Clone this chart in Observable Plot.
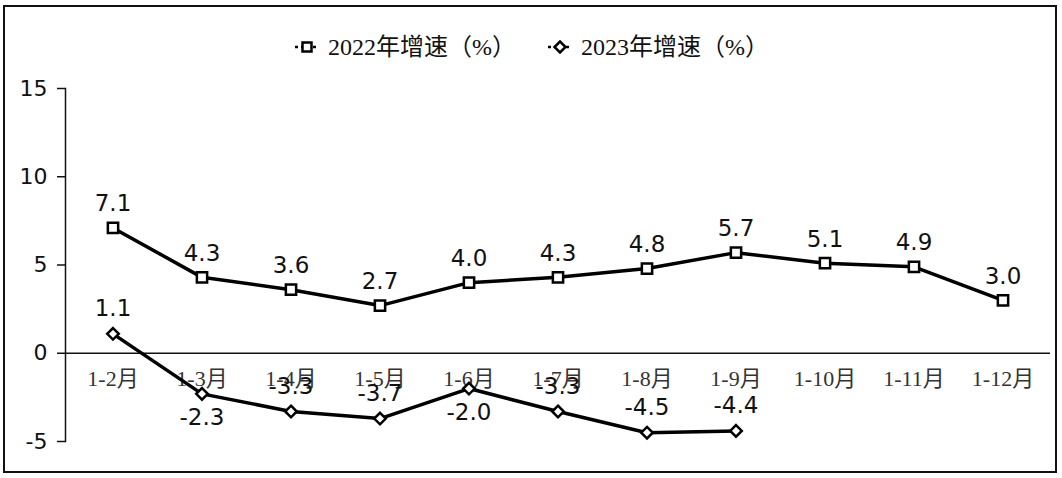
<!DOCTYPE html>
<html><head><meta charset="utf-8">
<script src="https://cdn.jsdelivr.net/npm/d3@7"></script>
<script src="https://cdn.jsdelivr.net/npm/@observablehq/plot@0.6"></script>
<style>
body{margin:0;background:#fff;}
#wrap{position:relative;width:1062px;height:478px;overflow:hidden;}
#border{position:absolute;left:3px;top:5px;width:1054px;height:468px;border:2px solid #111;box-sizing:border-box;pointer-events:none;}
#legend{position:absolute;top:32px;left:295px;display:flex;align-items:center;gap:32px;font-family:"Liberation Serif","Noto Sans CJK SC",serif;font-size:24px;line-height:30px;color:#111;}
#legend .item{display:flex;align-items:center;gap:9px;}
#chart{position:absolute;left:0;top:0;}
</style></head>
<body>
<div id="wrap"><div id="chart"></div>
<div id="legend">
<div class="item"><svg width="24" height="14"><line x1="0" y1="7" x2="24" y2="7" stroke="#000" stroke-width="2.5" stroke-dasharray="3,3"/><rect x="7.5" y="2.5" width="9" height="9" fill="#fff" stroke="#000" stroke-width="2.5"/></svg><span>2022年增速（%）</span></div>
<div class="item"><svg width="24" height="14"><line x1="0" y1="7" x2="24" y2="7" stroke="#000" stroke-width="2.5" stroke-dasharray="3,3"/><path d="M12,1.5L17.5,7L12,12.5L6.5,7Z" fill="#fff" stroke="#000" stroke-width="2.5"/></svg><span>2023年增速（%）</span></div>
</div>
<div id="border"></div></div>
<script>
const months = ["1-2月","1-3月","1-4月","1-5月","1-6月","1-7月","1-8月","1-9月","1-10月","1-11月","1-12月"];
const values2022 = [7.1,4.3,3.6,2.7,4.0,4.3,4.8,5.7,5.1,4.9,3.0];
const values2023 = [1.1,-2.3,-3.3,-3.7,-2.0,-3.3,-4.5,-4.4];
const labelPos2023 = ["above","below","above","above","below","above","above","above"];
const yTicks = [-5,0,5,10,15];

const d22 = values2022.map((v,i)=>({m:months[i],v}));
const d23 = values2023.map((v,i)=>({m:months[i],v,pos:labelPos2023[i]}));
const sans = "DejaVu Sans, Verdana, sans-serif";
const serif = "Liberation Serif, Noto Sans CJK SC, serif";

const chart = Plot.plot({
  width:1062, height:478,
  marginLeft:65, marginRight:12, marginTop:88, marginBottom:37,
  style:{fontFamily:sans, background:"transparent", color:"#111"},
  x:{type:"band", domain:months, padding:0, axis:null},
  y:{domain:[-5,15], axis:null},
  marks:[
    Plot.axisY({ticks:yTicks, label:null, tickSize:8, tickPadding:10, tickFormat:d=>String(d), fontSize:22, fontFamily:sans, stroke:"#111", strokeWidth:1.5}),
    Plot.frame({anchor:"left", stroke:"#111", strokeWidth:1.5}),
    Plot.ruleY([0], {stroke:"#111", strokeWidth:1.5}),
    Plot.text(months, {x:d=>d, y:()=>0, dy:26, text:d=>d, fontSize:22, fontFamily:serif, fill:"#333"}),
    Plot.line(d22, {x:"m", y:"v", stroke:"#000", strokeWidth:3.5}),
    Plot.line(d23, {x:"m", y:"v", stroke:"#000", strokeWidth:3.5}),
    Plot.dot(d22, {x:"m", y:"v", symbol:"square", r:5.8, fill:"#fff", stroke:"#000", strokeWidth:2.5}),
    Plot.dot(d23, {x:"m", y:"v", symbol:"diamond2", r:5.2, fill:"#fff", stroke:"#000", strokeWidth:2.5}),
    Plot.text(d22, {x:"m", y:"v", text:d=>d.v.toFixed(1), dy:-24, fontSize:23, fontFamily:sans, fill:"#111"}),
    Plot.text(d23.filter(d=>d.pos==="above"), {x:"m", y:"v", text:d=>d.v.toFixed(1), dy:-25, fontSize:23, fontFamily:sans, fill:"#111"}),
    Plot.text(d23.filter(d=>d.pos==="below"), {x:"m", y:"v", text:d=>d.v.toFixed(1), dy:24, fontSize:23, fontFamily:sans, fill:"#111"})
  ]
});
document.getElementById("chart").appendChild(chart);
</script>
</body></html>
